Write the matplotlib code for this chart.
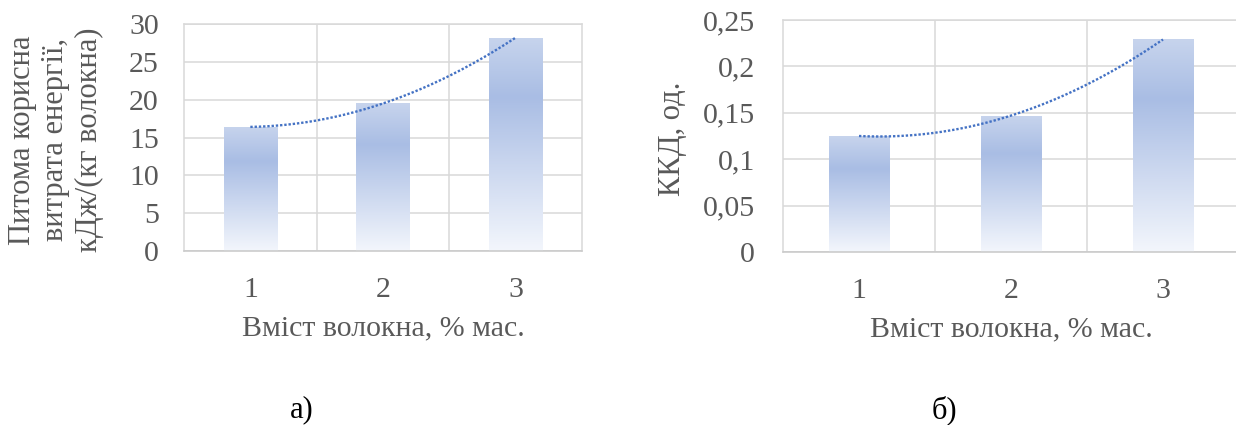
import numpy as np
import matplotlib
matplotlib.use("Agg")
import matplotlib.pyplot as plt
from matplotlib.colors import LinearSegmentedColormap

plt.rcParams["font.family"] = ["Liberation Serif", "DejaVu Serif"]

# data
categories = ["1", "2", "3"]
energy = [16.4, 19.5, 28.2]
efficiency = [0.125, 0.147, 0.229]

energy_ticks = [0, 5, 10, 15, 20, 25, 30]
energy_labels = ["0", "5", "10", "15", "20", "25", "30"]
eff_ticks = [0, 0.05, 0.1, 0.15, 0.2, 0.25]
eff_labels = ["0", "0,05", "0,1", "0,15", "0,2", "0,25"]

xlabel = "Вміст волокна, % мас."
ylabel_a = "Питома корисна\nвитрата енергії,\nкДж/(кг волокна)"
ylabel_b = "ККД, од."

TEXT = "#595959"
GRID = "#d9d9d9"
TREND = "#4472c4"
FS = 21.5

bar_cmap = LinearSegmentedColormap.from_list(
    "bar", [(0.0, "#f3f6fc"), (0.72, "#a9bde4"), (1.0, "#c7d4ed")])


def draw_panel(ax, values, ticks, labels, ylabel, ylab_x, ylab_y, xlab_y, ypad, xpad):
    x = np.arange(len(values))
    bars = ax.bar(x, values, width=0.4, facecolor="none", edgecolor="none", zorder=2)
    grad = np.linspace(0, 1, 256).reshape(-1, 1)
    for b in bars:
        x0, y0 = b.get_x(), b.get_y()
        im = ax.imshow(grad, cmap=bar_cmap, origin="lower", aspect="auto",
                       extent=[x0, x0 + b.get_width(), y0, y0 + b.get_height()],
                       zorder=2, interpolation="bilinear")
        im.set_clip_path(b)

    # polynomial (order 2) trendline like Excel
    coef = np.polyfit(x, values, 2)
    xs = np.linspace(x[0], x[-1], 200)
    ax.plot(xs, np.polyval(coef, xs), color=TREND, lw=1.7,
            ls=(0, (1, 0.8)), zorder=3)

    ax.set_xlim(-0.5, len(values) - 0.5)
    ax.set_ylim(ticks[0], ticks[-1])
    ax.set_yticks(ticks, labels)
    ax.set_xticks(x, categories)
    ax.set_xticks(x[:-1] + 0.5, minor=True)
    ax.grid(axis="y", which="major", color=GRID, lw=1.1)
    ax.grid(axis="x", which="minor", color=GRID, lw=1.1)
    ax.set_axisbelow(True)
    ax.tick_params(which="both", length=0, labelsize=FS, labelcolor=TEXT)
    ax.tick_params(axis="y", pad=ypad)
    ax.tick_params(axis="x", pad=xpad)
    for s in ax.spines.values():
        s.set_color(GRID)
        s.set_linewidth(1.1)
    ax.spines["bottom"].set_color("#c8c8c8")

    ax.text(ylab_x, ylab_y, ylabel, transform=ax.transAxes, rotation=90,
            ha="center", va="center", multialignment="center",
            fontsize=22, color=TEXT, linespacing=1.2)
    ax.text(0.5, xlab_y, xlabel, transform=ax.transAxes, ha="center", va="center",
            fontsize=FS, color=TEXT)


fig = plt.figure(figsize=(12.36, 4.25), dpi=100)
W, H = 1236, 425

ax1 = fig.add_axes([184 / W, 1 - 251 / H, 398 / W, 227 / H])
ax2 = fig.add_axes([783 / W, 1 - 252 / H, 456 / W, 232 / H])

draw_panel(ax1, energy, energy_ticks, energy_labels, ylabel_a,
           -0.322, 0.489, -0.339, 18, 18.5)
draw_panel(ax2, efficiency, eff_ticks, eff_labels, ylabel_b,
           -0.243, 0.487, -0.332, 20, 19)

fig.text(302 / W, 1 - 410 / H, "а)", ha="center", va="center", fontsize=22, color="black")
fig.text(944 / W, 1 - 410 / H, "б)", ha="center", va="center", fontsize=22, color="black")

fig.savefig("out.png", dpi=100)
